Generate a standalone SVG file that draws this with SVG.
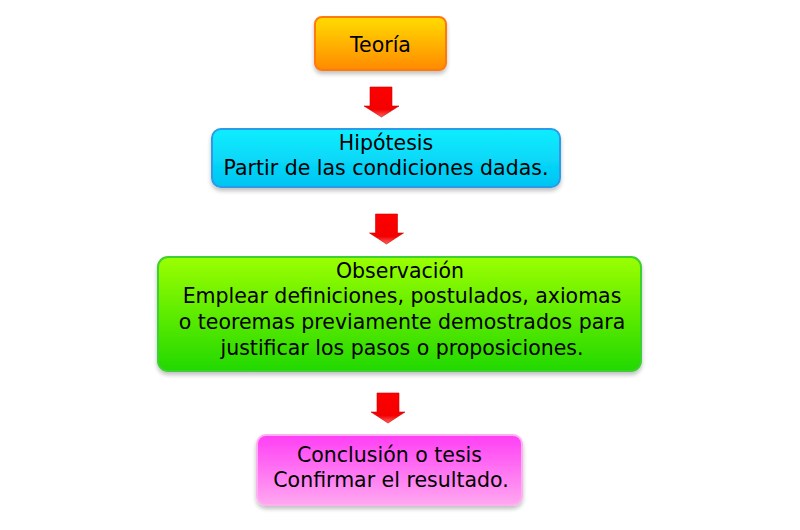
<svg xmlns="http://www.w3.org/2000/svg" width="800" height="530" viewBox="0 0 800 530">
<defs>
<linearGradient id="gOrange" x1="0" y1="0" x2="0" y2="1"><stop offset="0" stop-color="#FFDC00"/><stop offset="1" stop-color="#FF8A00"/></linearGradient>
<linearGradient id="gCyan" x1="0" y1="0" x2="0" y2="1"><stop offset="0" stop-color="#10EEFF"/><stop offset="1" stop-color="#00C4F2"/></linearGradient>
<linearGradient id="gGreen" x1="0" y1="0" x2="0" y2="1"><stop offset="0" stop-color="#9BFF00"/><stop offset="1" stop-color="#22D800"/></linearGradient>
<linearGradient id="gPink" x1="0" y1="0" x2="0" y2="1"><stop offset="0" stop-color="#FF3EF5"/><stop offset="1" stop-color="#FFA8F0"/></linearGradient>
<linearGradient id="gRed" x1="0" y1="0" x2="0" y2="1"><stop offset="0" stop-color="#FF0000"/><stop offset="0.75" stop-color="#F40000"/><stop offset="1" stop-color="#FF6060"/></linearGradient>
<filter id="shadow" x="-10%" y="-20%" width="120%" height="150%"><feGaussianBlur in="SourceAlpha" stdDeviation="2"/><feOffset dy="3"/><feComponentTransfer><feFuncA type="linear" slope="0.25"/></feComponentTransfer><feMerge><feMergeNode/><feMergeNode in="SourceGraphic"/></feMerge></filter>
</defs>
<style>
text{font-family:"DejaVu Sans","Verdana",sans-serif;font-size:20.5px;fill:#000;text-anchor:middle}
.box{filter:url(#shadow);stroke-width:2}
.arrow{fill:url(#gRed);stroke:#D00000;stroke-width:0.6}
</style>
<rect width="800" height="530" fill="#FFFFFF"/>
<g id="connectors">
<path class="arrow" d="M370,87 H392 V106 H399 L381.5,117 L364,106 H370 Z"/>
<path class="arrow" d="M375.5,214 H397.5 V233 H403.5 L386.5,244 L369.5,233 H375.5 Z"/>
<path class="arrow" d="M377,393 H399 V412 H405 L388,423 L371,412 H377 Z"/>
</g>
<g id="teoria">
<rect class="box" x="315" y="17" width="131" height="53" rx="7" fill="url(#gOrange)" stroke="#FF7A10"/>
<text x="380.5" y="52">Teoría</text>
</g>
<g id="hipotesis">
<rect class="box" x="212" y="129" width="348" height="58" rx="9" fill="url(#gCyan)" stroke="#2A9BE8"/>
<text x="386" y="150">Hipótesis</text>
<text x="386" y="175">Partir de las condiciones dadas.</text>
</g>
<g id="observacion">
<rect class="box" x="158" y="257" width="483" height="114" rx="10" fill="url(#gGreen)" stroke="#3CD030"/>
<text x="400" y="278">Observación</text>
<text x="402" y="303">Emplear definiciones, postulados, axiomas</text>
<text x="402" y="329">o teoremas previamente demostrados para</text>
<text x="402" y="355">justificar los pasos o proposiciones.</text>
</g>
<g id="conclusion">
<rect class="box" x="257" y="435" width="265" height="70" rx="9" fill="url(#gPink)" stroke="#FFB0F0"/>
<text x="389.5" y="462">Conclusión o tesis</text>
<text x="391" y="487">Confirmar el resultado.</text>
</g>
</svg>
